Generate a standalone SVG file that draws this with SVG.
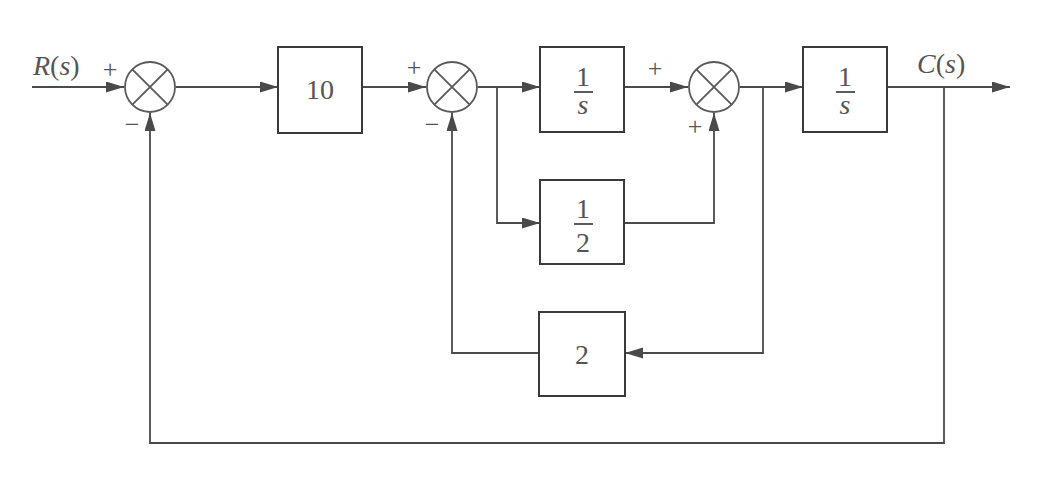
<svg xmlns="http://www.w3.org/2000/svg" width="1047" height="477" viewBox="0 0 1047 477">
<style>
.ln{fill:none;stroke:#4a4a4a;stroke-width:1.8}
.bx{fill:#fff;stroke:#3a3a3a;stroke-width:2}
.sj{fill:#fff;stroke:#5a5a5a;stroke-width:1.8}
.t{font-family:"Liberation Serif",serif;fill:#555;font-size:28px}
.i{font-style:italic}
.up{font-style:normal}
.sg{font-family:"Liberation Serif",serif;fill:#555;font-size:26px}
</style>
<defs>
<marker id="ah" markerUnits="userSpaceOnUse" markerWidth="20" markerHeight="12" refX="18" refY="5.5" orient="auto">
<path d="M0,0 L18,5.5 L0,11 Z" fill="#4a4a4a"/>
</marker>
</defs>
<rect width="1047" height="477" fill="#fff"/>
<g id="connectors">
<path class="ln" d="M32,87 H124" marker-end="url(#ah)"/>
<path class="ln" d="M176,87 H278" marker-end="url(#ah)"/>
<path class="ln" d="M362,87 H426" marker-end="url(#ah)"/>
<path class="ln" d="M478,87 H540" marker-end="url(#ah)"/>
<path class="ln" d="M497,87 V223 H540" marker-end="url(#ah)"/>
<path class="ln" d="M624,87 H688" marker-end="url(#ah)"/>
<path class="ln" d="M624,223 H714 V113" marker-end="url(#ah)"/>
<path class="ln" d="M740,87 H803" marker-end="url(#ah)"/>
<path class="ln" d="M763,87 V353 H625" marker-end="url(#ah)"/>
<path class="ln" d="M539,353 H452 V113" marker-end="url(#ah)"/>
<path class="ln" d="M887,87 H1010" marker-end="url(#ah)"/>
<path class="ln" d="M944,87 V443 H150 V113" marker-end="url(#ah)"/>
</g>
<g id="sum1">
<circle class="sj" cx="150" cy="87" r="25"/>
<path class="sj" d="M132.3,69.3 L167.7,104.7 M167.7,69.3 L132.3,104.7"/>
<text class="sg" x="110" y="78" text-anchor="middle">+</text>
<text class="sg" x="132" y="133" text-anchor="middle">−</text>
</g>
<g id="gain10">
<rect class="bx" x="278" y="47" width="84" height="86"/>
<text class="t" x="320" y="99" text-anchor="middle">10</text>
</g>
<g id="sum2">
<circle class="sj" cx="452" cy="87" r="25"/>
<path class="sj" d="M434.3,69.3 L469.7,104.7 M469.7,69.3 L434.3,104.7"/>
<text class="sg" x="414" y="76" text-anchor="middle">+</text>
<text class="sg" x="432" y="133" text-anchor="middle">−</text>
</g>
<g id="integ1">
<rect class="bx" x="540" y="47" width="84" height="85"/>
<text class="t" x="583" y="86" text-anchor="middle">1</text>
<line class="ln" x1="574" y1="92" x2="593" y2="92"/>
<text class="t i" x="583" y="114" text-anchor="middle">s</text>
</g>
<g id="half">
<rect class="bx" x="540" y="180" width="84" height="84"/>
<text class="t" x="583" y="218" text-anchor="middle">1</text>
<line class="ln" x1="574" y1="224" x2="593" y2="224"/>
<text class="t" x="583" y="252" text-anchor="middle">2</text>
</g>
<g id="sum3">
<circle class="sj" cx="714" cy="87" r="25"/>
<path class="sj" d="M696.3,69.3 L731.7,104.7 M731.7,69.3 L696.3,104.7"/>
<text class="sg" x="655" y="77" text-anchor="middle">+</text>
<text class="sg" x="695" y="135" text-anchor="middle">+</text>
</g>
<g id="integ2">
<rect class="bx" x="803" y="47" width="84" height="85"/>
<text class="t" x="845" y="86" text-anchor="middle">1</text>
<line class="ln" x1="836" y1="92" x2="855" y2="92"/>
<text class="t i" x="845" y="114" text-anchor="middle">s</text>
</g>
<g id="gain2">
<rect class="bx" x="539" y="312" width="86" height="84"/>
<text class="t" x="582" y="364" text-anchor="middle">2</text>
</g>
<g id="labels">
<text class="t i" x="33" y="75">R<tspan class="up">(</tspan>s<tspan class="up">)</tspan></text>
<text class="t i" x="917" y="73">C<tspan class="up">(</tspan>s<tspan class="up">)</tspan></text>
</g>
</svg>
